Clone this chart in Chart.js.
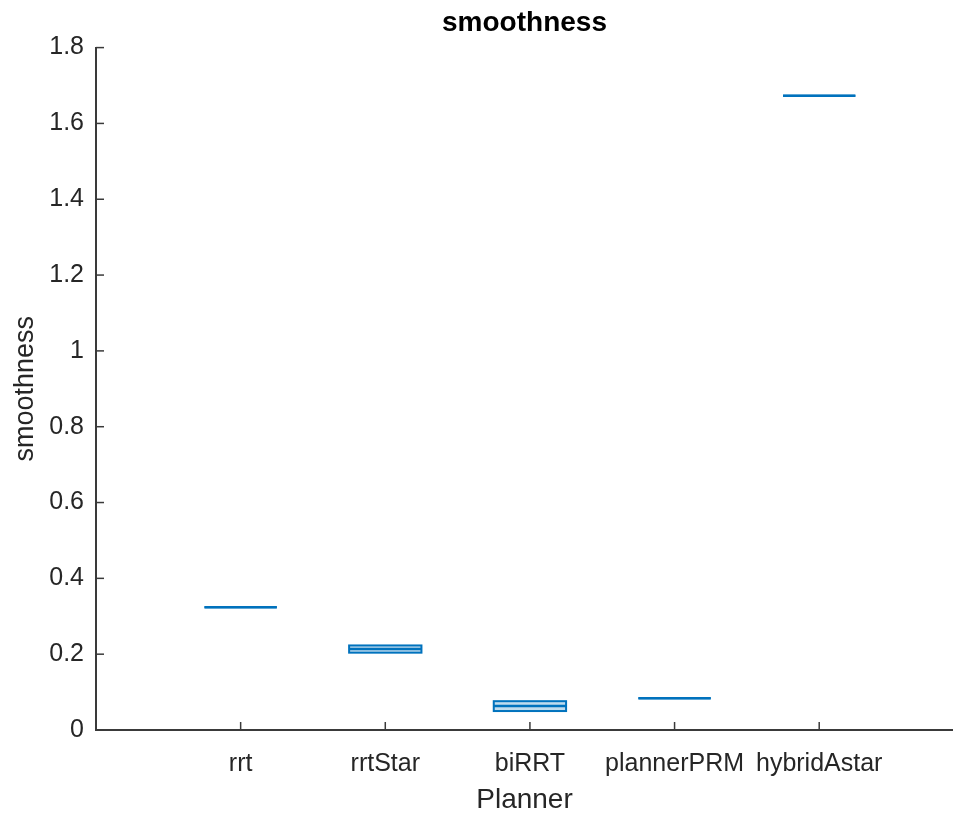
<!DOCTYPE html>
<html>
  <head>
    <script src="https://cdn.jsdelivr.net/npm/chart.js"></script>
    <style>
      body {
        margin: 0;
        padding: 0;
        background: #ffffff;
        overflow: hidden;
      }
    </style>
  </head>
  <body>
    <canvas id="boxChart" width="953" height="813"></canvas>
    <script>
      // Box statistics per planner (quartiles and median of smoothness)
      const planners = ["rrt", "rrtStar", "biRRT", "plannerPRM", "hybridAstar"];
      const q1 = [0.324, 0.204, 0.05, 0.084, 1.673];
      const medians = [0.324, 0.2135, 0.063, 0.084, 1.673];
      const q3 = [0.324, 0.223, 0.076, 0.084, 1.673];
      const yTicks = [0, 0.2, 0.4, 0.6, 0.8, 1, 1.2, 1.4, 1.6, 1.8];

      const boxColor = "#0072BD";
      const axisColor = "#3a3a3a";
      const textColor = "#262626";
      const fontFamily = "'Liberation Sans', Arial, Helvetica, sans-serif";
      const boxWidth = 0.5; // in category units

      // Draws MATLAB-style boxes plus inward tick marks
      const boxPlugin = {
        id: "boxPlugin",
        afterDatasetsDraw(chart) {
          const { ctx, scales } = chart;
          const xs = scales.x;
          const ys = scales.y;
          ctx.save();
          planners.forEach((p, i) => {
            const xc = i + 1;
            const x0 = xs.getPixelForValue(xc - boxWidth / 2);
            const x1 = xs.getPixelForValue(xc + boxWidth / 2);
            const yTop = ys.getPixelForValue(q3[i]);
            const yBot = ys.getPixelForValue(q1[i]);
            const yMed = ys.getPixelForValue(medians[i]);
            ctx.fillStyle = "rgba(0, 114, 189, 0.25)";
            ctx.fillRect(x0, yTop, x1 - x0, yBot - yTop);
            ctx.strokeStyle = boxColor;
            ctx.lineWidth = 2;
            ctx.strokeRect(x0, yTop, x1 - x0, yBot - yTop);
            ctx.lineWidth = 2.5;
            ctx.beginPath();
            ctx.moveTo(x0, yMed);
            ctx.lineTo(x1, yMed);
            ctx.stroke();
          });

          // tick marks pointing into the plot
          ctx.strokeStyle = axisColor;
          ctx.lineWidth = 1.5;
          const left = chart.chartArea.left;
          const bottom = chart.chartArea.bottom;
          ys.ticks.forEach((t) => {
            const y = ys.getPixelForValue(t.value);
            ctx.beginPath();
            ctx.moveTo(left, y);
            ctx.lineTo(left + 8, y);
            ctx.stroke();
          });
          xs.ticks.forEach((t) => {
            const x = xs.getPixelForValue(t.value);
            ctx.beginPath();
            ctx.moveTo(x, bottom);
            ctx.lineTo(x, bottom - 8);
            ctx.stroke();
          });
          ctx.restore();
        },
      };

      const ctx = document.getElementById("boxChart").getContext("2d");
      new Chart(ctx, {
        type: "scatter",
        data: {
          datasets: [
            {
              label: "smoothness",
              data: medians.map((m, i) => ({ x: i + 1, y: m })),
              pointRadius: 0,
              pointHoverRadius: 0,
            },
          ],
        },
        options: {
          responsive: false,
          animation: false,
          layout: { padding: 0 },
          plugins: {
            legend: { display: false },
            tooltip: { enabled: false },
            title: {
              display: true,
              fullSize: false,
              text: "smoothness",
              color: "#000000",
              font: { family: fontFamily, size: 28, weight: "bold", lineHeight: 1.2 },
              padding: { top: 6, bottom: 8 },
            },
          },
          scales: {
            x: {
              type: "linear",
              min: 0,
              max: 5.925,
              afterBuildTicks: (scale) => {
                scale.ticks = planners.map((p, i) => ({ value: i + 1 }));
              },
              afterFit: (scale) => {
                scale.height = 83;
              },
              grid: { display: false, drawTicks: false },
              border: { display: true, color: axisColor, width: 2 },
              ticks: {
                color: textColor,
                padding: 19,
                maxRotation: 0,
                autoSkip: false,
                font: { family: fontFamily, size: 25 },
                callback: (value) => planners[value - 1],
              },
              title: {
                display: true,
                text: "Planner",
                color: textColor,
                font: { family: fontFamily, size: 28, lineHeight: 0.9 },
                padding: { top: 0, bottom: 0 },
              },
            },
            y: {
              min: 0,
              max: 1.8,
              afterBuildTicks: (scale) => {
                scale.ticks = yTicks.map((v) => ({ value: v }));
              },
              afterFit: (scale) => {
                scale.width = 96;
              },
              grid: { display: false, drawTicks: false },
              border: { display: true, color: axisColor, width: 2 },
              ticks: {
                color: textColor,
                padding: 12,
                font: { family: fontFamily, size: 25 },
                callback: (value) => String(Number(value.toFixed(1))),
              },
              title: {
                display: true,
                text: "smoothness",
                color: textColor,
                font: { family: fontFamily, size: 27, lineHeight: 1.2 },
                padding: { top: 9, bottom: 0 },
              },
            },
          },
        },
        plugins: [boxPlugin],
      });
    </script>
  </body>
</html>
